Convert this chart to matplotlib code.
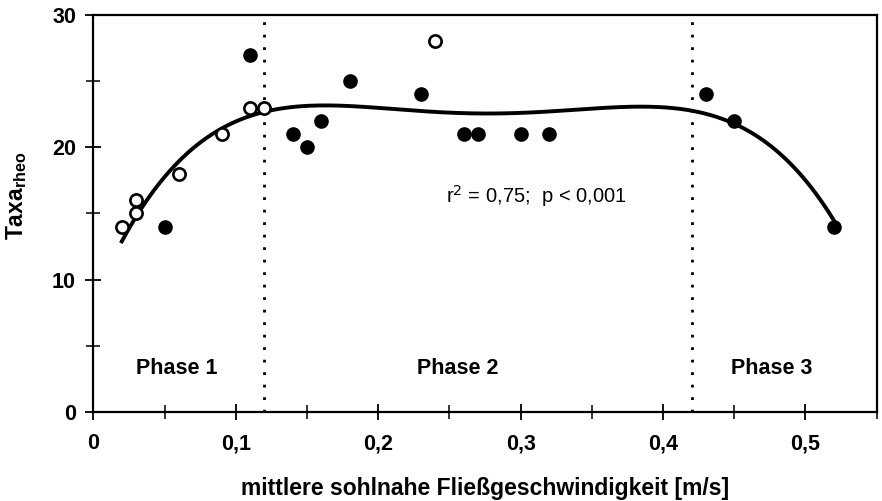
import numpy as np
import matplotlib
matplotlib.use("Agg")
import matplotlib.pyplot as plt
from matplotlib.ticker import MultipleLocator, FuncFormatter

# open circles
x_open = [0.02, 0.03, 0.03, 0.06, 0.09, 0.11, 0.12, 0.24]
y_open = [14, 16, 15, 18, 21, 23, 23, 28]
# filled circles
x_fill = [0.05, 0.11, 0.14, 0.15, 0.16, 0.18, 0.23, 0.26, 0.27, 0.30, 0.32, 0.43, 0.45, 0.52]
y_fill = [14, 27, 21, 20, 22, 25, 24, 21, 21, 21, 21, 24, 22, 14]

phase_bounds = [0.12, 0.42]
phase_labels = ["Phase 1", "Phase 2", "Phase 3"]
phase_label_x = [0.0585, 0.256, 0.476]
fit_degree = 4

plt.rcParams['font.family'] = ['Liberation Sans', 'DejaVu Sans']

fig = plt.figure(figsize=(8.82, 5.01), dpi=100)
ax = fig.add_axes([0.1058, 0.178, 0.8882, 0.792])

# trend line fitted to all points
xa = np.array(x_open + x_fill)
ya = np.array(y_open + y_fill)
coef = np.polyfit(xa, ya, fit_degree)
xs = np.linspace(min(xa), max(xa), 300)
ax.plot(xs, np.polyval(coef, xs), color='black', lw=2.8, zorder=3)

ax.plot(x_fill, y_fill, 'o', color='black', markersize=9.5, zorder=4)
ax.plot(x_open, y_open, 'o', markerfacecolor='white', markeredgecolor='black',
        markeredgewidth=1.9, markersize=8.8, zorder=5)

for b in phase_bounds:
    ax.axvline(b, color='black', lw=2, linestyle=(0, (1, 3.5)), zorder=2)

for lx, lab in zip(phase_label_x, phase_labels):
    ax.text(lx, 3.3, lab, ha='center', va='center', fontsize=15.5, fontweight='bold')

ax.text(0.311, 16.35, r"r$^2$ = 0,75;  p < 0,001", ha='center', va='center', fontsize=14.5)

ax.set_xlim(0, 0.55)
ax.set_ylim(0, 30)
ax.xaxis.set_major_locator(MultipleLocator(0.1))
ax.xaxis.set_minor_locator(MultipleLocator(0.05))
ax.yaxis.set_major_locator(MultipleLocator(10))
ax.yaxis.set_minor_locator(MultipleLocator(5))
ax.xaxis.set_major_formatter(FuncFormatter(lambda v, p: ("%g" % round(v, 2)).replace('.', ',')))
ax.tick_params(which='major', direction='inout', length=11, width=1.3, labelsize=15.5)
ax.tick_params(axis='x', which='major', pad=10)
ax.tick_params(axis='y', which='major', pad=7)
ax.tick_params(which='minor', direction='inout', length=10, width=1.1)
for lab in ax.get_xticklabels() + ax.get_yticklabels():
    lab.set_fontweight('bold')
for s in ax.spines.values():
    s.set_linewidth(1.6)

fig.text(485 / 882, 1 - 489 / 501, "mittlere sohlnahe Fließgeschwindigkeit [m/s]",
         ha='center', va='center', fontsize=16.5, fontweight='bold')
fig.text(17 / 882, 1 - 196 / 501, r"Taxa$_{\mathregular{rheo}}$", rotation=90,
         ha='center', va='center', fontsize=16.5, fontweight='bold')

fig.savefig("out.png", dpi=100)
